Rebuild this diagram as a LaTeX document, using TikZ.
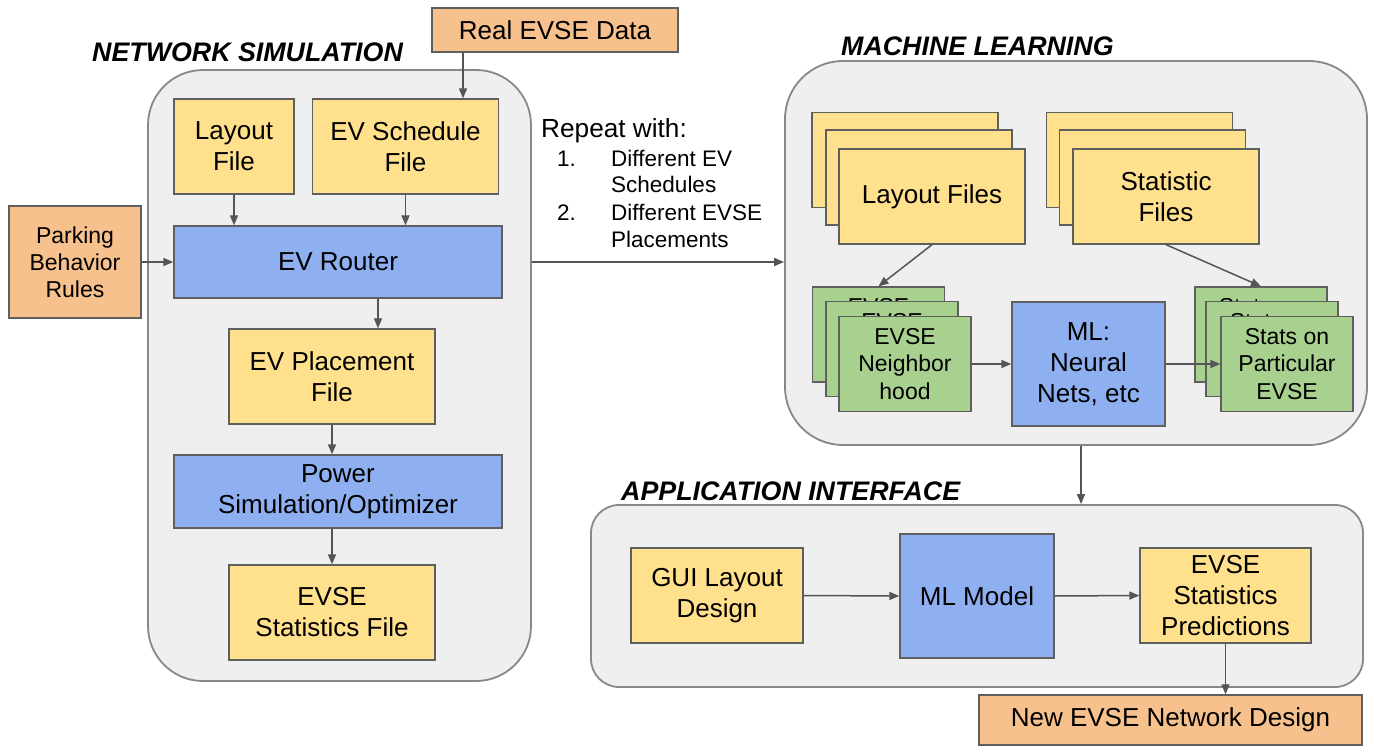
\documentclass[tikz,border=0pt]{standalone}
\usepackage{fontspec}
\setmainfont{Liberation Sans}
\usetikzlibrary{arrows.meta}
\definecolor{cyel}{HTML}{FFE08C}
\definecolor{cora}{HTML}{F6C18C}
\definecolor{cblu}{HTML}{8FB0F0}
\definecolor{cgrn}{HTML}{A8D08E}
\definecolor{cfill}{HTML}{EFEFEF}
\definecolor{cline}{HTML}{888888}
\definecolor{bline}{HTML}{5F5F5F}
\definecolor{aline}{HTML}{555555}
\newcommand\myfs[2]{\fontsize{#1}{#2}\selectfont}
\begin{document}
\begin{tikzpicture}[x=1pt,y=-1pt,
  box/.style={draw=bline, line width=1.3pt, inner sep=0pt, align=center, font=\myfs{26}{31}},
  ybox/.style={box, fill=cyel},
  obox/.style={box, fill=cora},
  bbox/.style={box, fill=cblu},
  gbox/.style={box, fill=cgrn, font=\myfs{23}{27.5}},
  arr/.style={draw=aline, line width=1.5pt, -{Triangle[length=10pt,width=8pt]}},
  cont/.style={draw=cline, fill=cfill, line width=1.8pt},
  ttl/.style={font=\myfs{26.8}{30}\bfseries\itshape, anchor=base west, inner sep=0pt},
  rtxt/.style={anchor=base west, inner sep=0pt}
]
\fill[white] (0,0) rectangle (1379,749);
\useasboundingbox (0,0) rectangle (1379,749);

% containers
\node[cont, rounded corners=55pt, minimum width=383pt, minimum height=611pt] (netc) at (339.5,375.5) {};
\node[cont, rounded corners=58pt, minimum width=582pt, minimum height=384pt] (mlc) at (1076,253) {};
\node[cont, rounded corners=28pt, minimum width=772pt, minimum height=182pt] (appc) at (977,596) {};

% titles
\node[ttl] (t1) at (92,62) {NETWORK SIMULATION};
\node[ttl] (t2) at (841,56) {MACHINE LEARNING};
\node[ttl] (t3) at (621,500) {APPLICATION INTERFACE};

% network simulation
\node[obox, minimum width=246pt, minimum height=44pt] (realdata) at (555,30) {Real EVSE Data};
\node[ybox, minimum width=120pt, minimum height=95pt] (layout) at (234,146.5) {Layout\\File};
\node[ybox, minimum width=186pt, minimum height=95pt] (evsched) at (405.5,146.5) {EV Schedule\\File};
\node[obox, font=\myfs{23}{27}, minimum width=132pt, minimum height=112pt] (parking) at (75,262) {Parking\\Behavior\\Rules};
\node[bbox, minimum width=328pt, minimum height=72pt] (router) at (338,262) {EV Router};
\node[ybox, minimum width=206pt, minimum height=95pt] (place) at (332,376.5) {EV Placement\\File};
\node[bbox, minimum width=328pt, minimum height=73pt] (power) at (338,491.5) {Power\\Simulation/Optimizer};
\node[ybox, minimum width=206pt, minimum height=95pt] (statsf) at (332,612.5) {EVSE\\Statistics File};

% repeat text
\node[rtxt, font=\myfs{26.2}{30}] (rep) at (541,138) {Repeat with:};
\node[rtxt, font=\myfs{22.5}{27}] (n1) at (557,167) {1.};
\node[rtxt, font=\myfs{22.5}{27}] (r1a) at (611,167) {Different EV};
\node[rtxt, font=\myfs{22.5}{27}] (r1b) at (611,192) {Schedules};
\node[rtxt, font=\myfs{22.5}{27}] (n2) at (557,220) {2.};
\node[rtxt, font=\myfs{22.5}{27}] (r2a) at (611,220) {Different EVSE};
\node[rtxt, font=\myfs{22.5}{27}] (r2b) at (611,247) {Placements};

% machine learning
\node[ybox, minimum width=186pt, minimum height=95pt] (lback) at (905,160) {};
\node[ybox, minimum width=186pt, minimum height=95pt] (lmid) at (919,177.5) {};
\node[ybox, minimum width=186pt, minimum height=95pt] (lfront) at (932,196.5) {Layout Files};
\node[ybox, minimum width=186pt, minimum height=95pt] (sfback) at (1139.5,160) {};
\node[ybox, minimum width=186pt, minimum height=95pt] (sfmid) at (1152.5,177.5) {};
\node[ybox, minimum width=186pt, minimum height=95pt] (sffront) at (1166,196.5) {Statistic\\Files};

\node[gbox, minimum width=132pt, minimum height=95pt] (gback) at (878.5,334.5) {EVSE\\\phantom{Neighbor}\\\phantom{hood}};
\node[gbox, minimum width=132pt, minimum height=95pt] (gmid) at (892,349) {EVSE\\\phantom{Neighbor}\\\phantom{hood}};
\node[gbox, minimum width=132pt, minimum height=95pt] (gfront) at (905,364) {EVSE\\Neighbor\\hood};
\node[bbox, minimum width=153pt, minimum height=124pt] (mlnn) at (1088.5,364) {ML:\\Neural\\Nets, etc};
\node[gbox, minimum width=132pt, minimum height=95pt] (sback) at (1261,334.5) {Stats on\\\phantom{Particular}\\\phantom{EVSE}};
\node[gbox, minimum width=132pt, minimum height=95pt] (smid) at (1272,349) {Stats on\\\phantom{Particular}\\\phantom{EVSE}};
\node[gbox, minimum width=132pt, minimum height=95pt] (sfront) at (1287,364) {Stats on\\Particular\\EVSE};

% application interface
\node[ybox, minimum width=172pt, minimum height=95pt] (gui) at (717,595.5) {GUI Layout\\Design};
\node[bbox, minimum width=154pt, minimum height=124pt] (mlmodel) at (977,596) {ML Model};
\node[ybox, minimum width=171pt, minimum height=95pt] (pred) at (1225.5,595.5) {EVSE\\Statistics\\Predictions};
\node[obox, minimum width=383pt, minimum height=50pt] (newd) at (1170.5,720) {New EVSE Network Design};

% connectors
\coordinate (rx) at (463,0);
\coordinate (px) at (378,0);
\coordinate (mx) at (1081,0);
\draw[arr] (realdata.south -| rx) -- (evsched.north -| rx);
\draw[arr] (layout.south) -- (layout.south |- router.north);
\draw[arr] (evsched.south) -- (evsched.south |- router.north);
\draw[arr] (parking.east) -- (router.west);
\draw[arr] (router.south -| px) -- (place.north -| px);
\draw[arr] (place.south) -- (place.south |- power.north);
\draw[arr] (power.south -| statsf.north) -- (statsf.north);
\draw[arr] (netc.east |- router.east) -- (mlc.west |- router.east);
\draw[arr] (lfront.south) -- (gback.north);
\draw[arr] (sffront.south) -- (sback.north);
\draw[arr] (gfront.east) -- (mlnn.west);
\draw[arr] (mlnn.east) -- (sfront.west);
\draw[arr] (mlc.south -| mx) -- (appc.north -| mx);
\draw[arr] (gui.east) -- (mlmodel.west);
\draw[arr] (mlmodel.east) -- (pred.west);
\draw[arr] (pred.south) -- (pred.south |- newd.north);
\end{tikzpicture}
\end{document}
